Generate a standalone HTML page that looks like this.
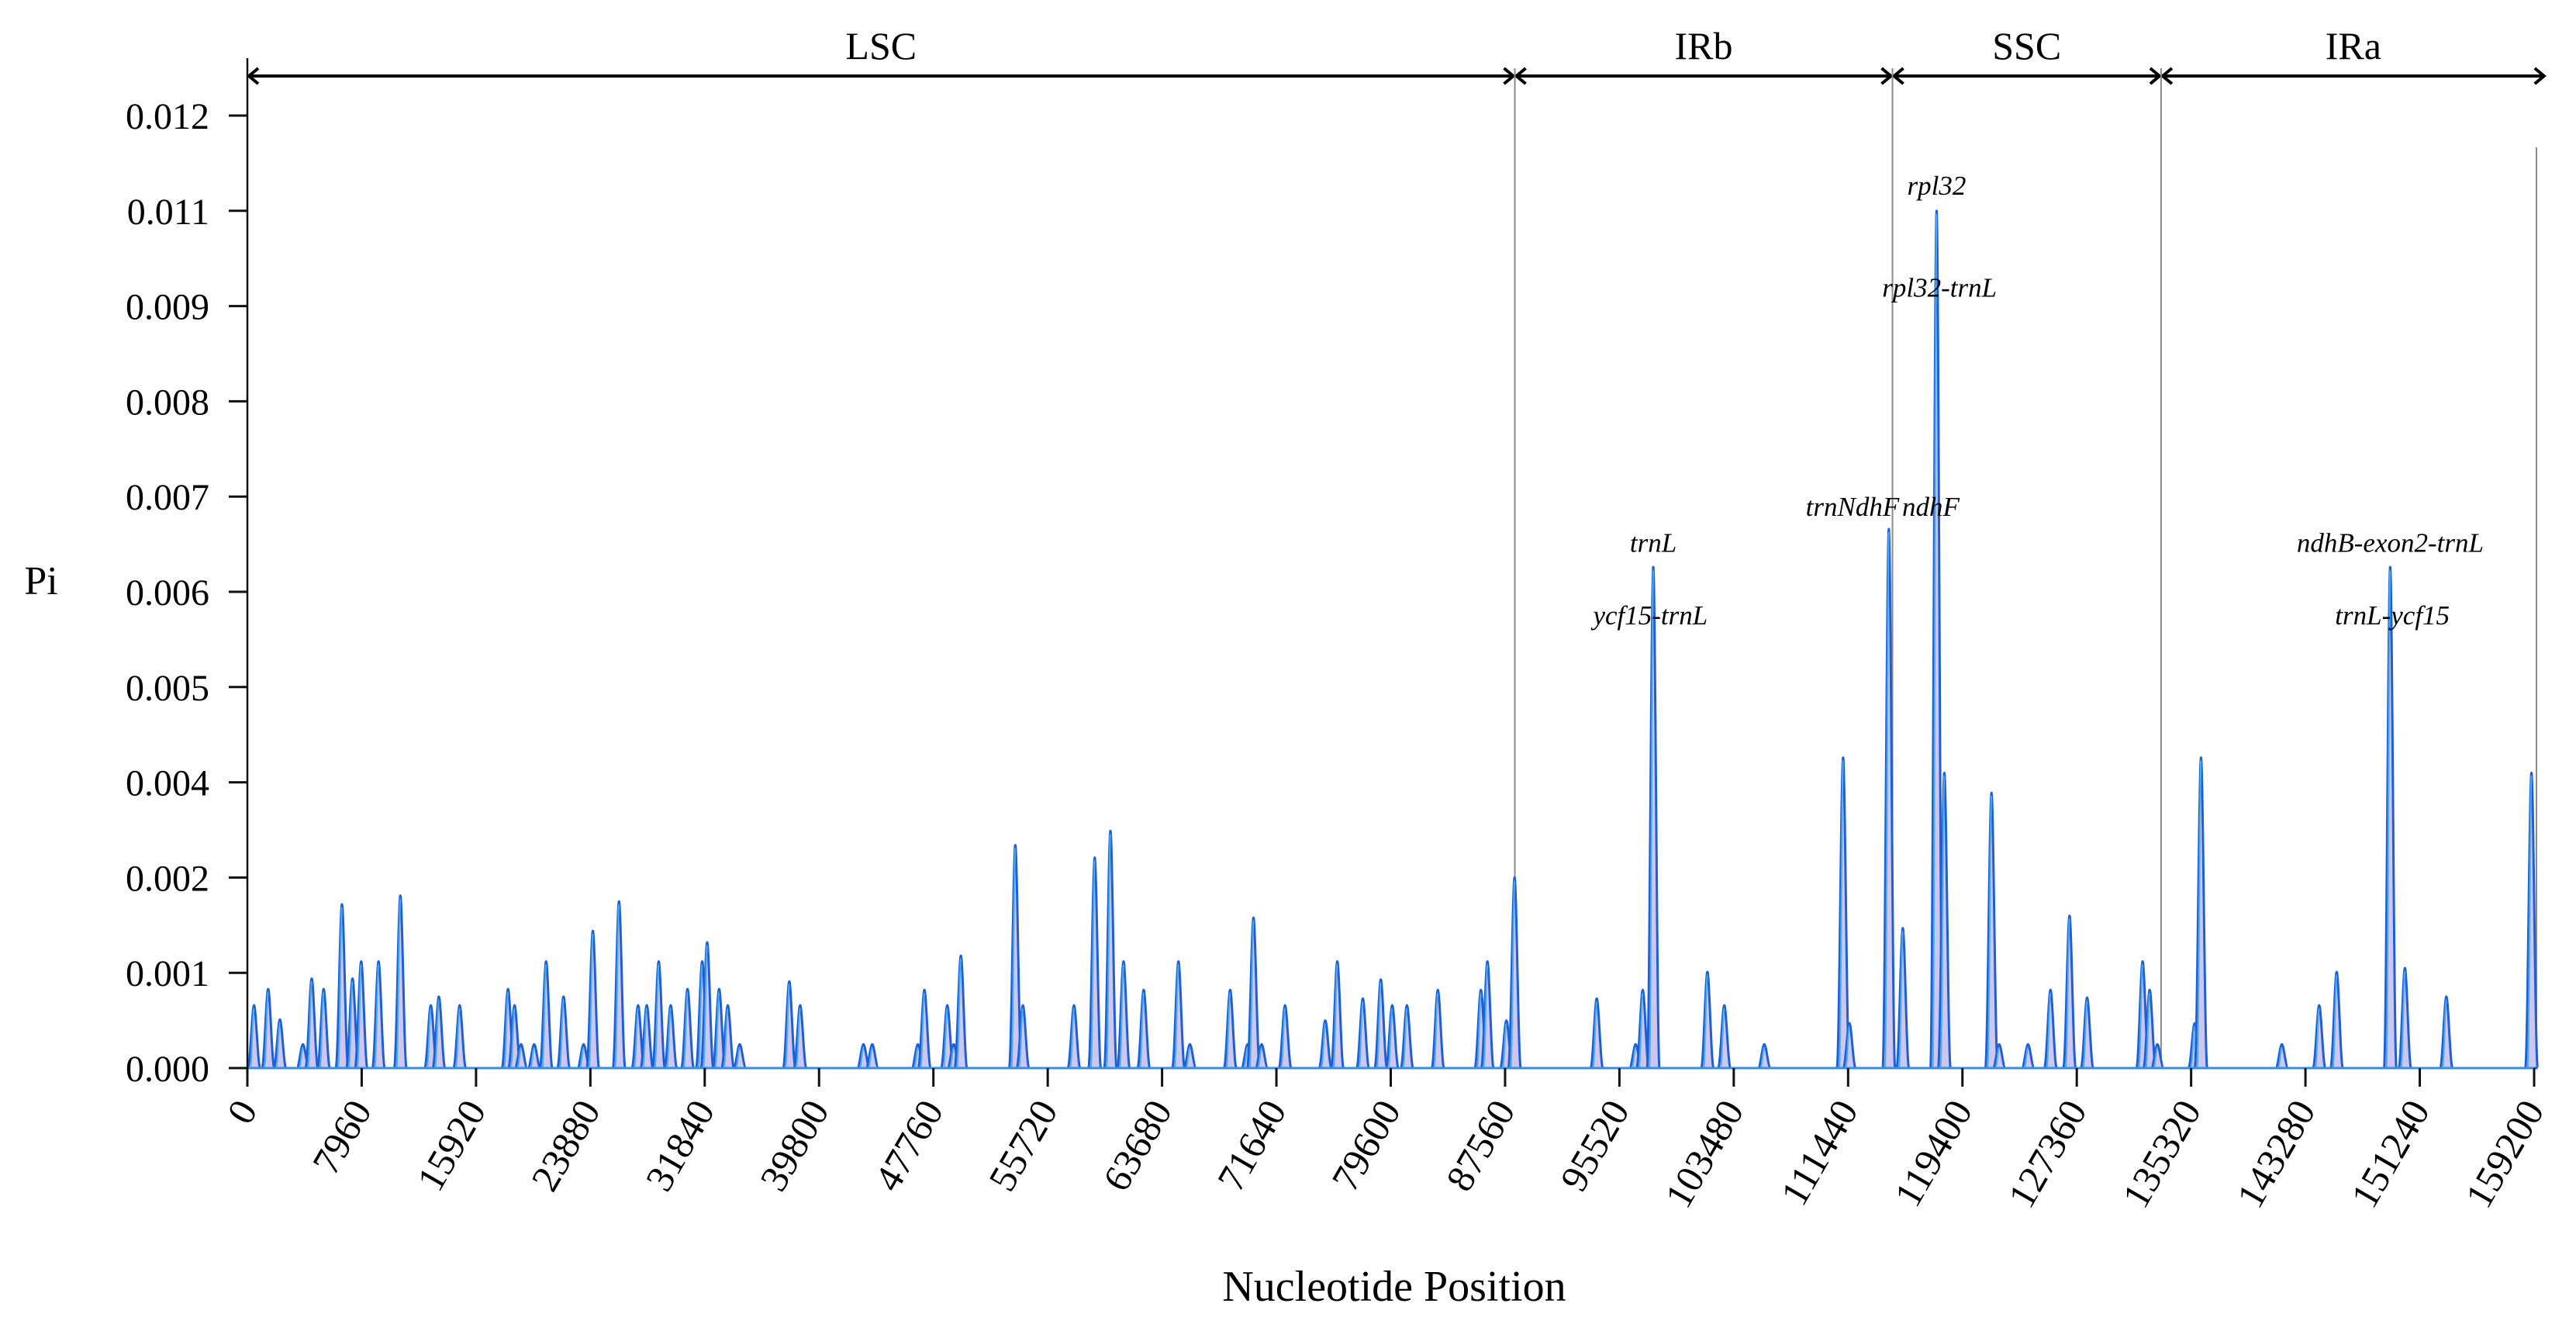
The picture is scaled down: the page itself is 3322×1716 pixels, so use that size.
<!DOCTYPE html>
<html><head><meta charset="utf-8"><style>
html,body{margin:0;padding:0;background:#fff;}
svg{display:block;font-family:"Liberation Serif",serif;}
</style></head><body>
<svg id="chart" width="3322" height="1716" viewBox="0 0 3322 1716" xmlns="http://www.w3.org/2000/svg">
<g id="regions"></g>
<g id="peaks"></g>
<g id="axes"></g>
<g id="labels"></g>
<text x="53" y="766" font-size="52" text-anchor="middle">Pi</text>
<text x="1798" y="1677" font-size="56" text-anchor="middle">Nucleotide Position</text>
</svg>
<script>
const positions=[464,1447,2267,3870,4480,5312,6586,7320,7924,9133,10650,12772,13333,14780,18148,18602,19055,19967,20798,22013,23411,24054,25873,27201,27806,28637,29473,30645,31665,32011,32842,33447,34278,37727,38483,42893,43503,46683,47136,48728,49176,49673,53462,53991,57548,58990,60085,60998,62401,64820,65618,68420,69634,70045,70611,72242,75043,75880,77656,78908,79702,80728,82881,85877,86331,87653,88220,93942,96652,97143,97877,101645,102822,105607,111092,111534,114276,115248,117601,118141,121423,121958,123966,125531,126854,128079,131944,132435,132975,135566,136009,141639,144236,145455,149180,150205,153088,159015];
const piValues=[0.00066,0.00083,0.00051,0.00025,0.00094,0.00083,0.00172,0.00094,0.00112,0.00112,0.00181,0.00066,0.00075,0.00066,0.00083,0.00066,0.00025,0.00025,0.00112,0.00075,0.00025,0.00144,0.00175,0.00066,0.00066,0.00112,0.00066,0.00083,0.00112,0.00132,0.00083,0.00066,0.00025,0.00091,0.00066,0.00025,0.00025,0.00025,0.00082,0.00066,0.00025,0.00118,0.00234,0.00066,0.00066,0.00221,0.00249,0.00112,0.00082,0.00112,0.00025,0.00082,0.00025,0.00158,0.00025,0.00066,0.0005,0.00112,0.00073,0.00093,0.00066,0.00066,0.00082,0.00082,0.00112,0.0005,0.002,0.00073,0.00025,0.00082,0.00526,0.00101,0.00066,0.00025,0.00326,0.00047,0.00566,0.00147,0.009,0.0031,0.00289,0.00025,0.00025,0.00082,0.0016,0.00074,0.00112,0.00082,0.00025,0.00047,0.00326,0.00025,0.00066,0.00101,0.00526,0.00105,0.00075,0.0031];
const yTickValues=[0,0.001,0.002,0.003,0.004,0.005,0.006,0.007,0.008,0.009,0.010];
const yTickLabels=["0.000","0.001","0.002","0.004","0.005","0.006","0.007","0.008","0.009","0.011","0.012"];
const xTickValues=[0,7960,15920,23880,31840,39800,47760,55720,63680,71640,79600,87560,95520,103480,111440,119400,127360,135320,143280,151240,159200];
const regionNames=["LSC","IRb","SSC","IRa"];
const regionStarts=[0,88240,114530,133230];
const regionEnds=[88240,114530,133230,160000];
const geneLabels=["rpl32","rpl32-trnL","trnNdhF","ndhF","trnL","ycf15-trnL","ndhB-exon2-trnL","trnL-ycf15"];
const geneLabelPos=[117601,117801,115000,115200,97877,97677,149180,149330];
const geneLabelPi=[0.00917,0.00810,0.00580,0.00580,0.00542,0.00466,0.00542,0.00466];
const geneLabelAnchor=["middle","middle","end","start","middle","middle","middle","middle"];

const NS="http://www.w3.org/2000/svg";
const X0=319,X1=3268,Y0=1377,Y1=149;
const xS=v=>X0+(v/159200)*(X1-X0);
const yS=v=>Y0-(v/0.010)*(Y0-Y1);
function mk(tag,parent,attrs){const e=document.createElementNS(NS,tag);for(const k in attrs)e.setAttribute(k,attrs[k]);parent.appendChild(e);return e;}

const reg=document.getElementById('regions');
const arrowY=98;
for(let i=0;i<regionNames.length;i++){
  const a=xS(regionStarts[i]),b=Math.min(xS(regionEnds[i]),3290);
  const g=mk('g',reg,{});
  
  
  const ln=mk('path',g,{d:`M${a+2},${arrowY}L${b-2},${arrowY}M${a+14},${arrowY-10}L${a+2},${arrowY}L${a+14},${arrowY+10}M${b-14},${arrowY-10}L${b-2},${arrowY}L${b-14},${arrowY+10}`,stroke:'#000','stroke-width':4,fill:'none'});
  
  
  const t=mk('text',g,{x:(a+b)/2,y:76,'font-size':50,'text-anchor':'middle'});
  
  
  t.textContent=regionNames[i];
  if(i>0){
    const sep=mk('line',g,{x1:a,x2:a,y1:88,y2:Y0,stroke:'#8a8a8a','stroke-width':2});
    
    
  }
}
const endLine=mk('line',reg,{x1:3271,x2:3271,y1:190,y2:Y0,stroke:'#8a8a8a','stroke-width':2});



const pk=document.getElementById('peaks');
for(let i=0;i<positions.length;i++){
  const x=xS(positions[i]),y=yS(piValues[i]),w=8;
  const p=mk('path',pk,{d:`M${x-w},${Y0}C${x-w+3},${Y0} ${x-2.5},${y} ${x},${y}C${x+2.5},${y} ${x+w-3},${Y0} ${x+w},${Y0}Z`,fill:'#cdc6ee',stroke:'#1f5fd6','stroke-width':3});
  
  
  const q=mk('path',pk,{d:`M${x-w+3},${Y0}C${x-w+5},${Y0} ${x-1.5},${y+4} ${x},${y+4}`,fill:'none',stroke:'#49aef0','stroke-width':2});
  
  
}
const base=mk('line',pk,{x1:X0,x2:X1,y1:Y0,y2:Y0,stroke:'#3a8ee6','stroke-width':3});



const ax=document.getElementById('axes');
const yAxis=mk('line',ax,{x1:X0,x2:X0,y1:75,y2:Y0+22,stroke:'#111','stroke-width':2.5});


for(let i=0;i<yTickValues.length;i++){
  const y=yS(yTickValues[i]);
  const t=mk('line',ax,{x1:X0-24,x2:X0,y1:y,y2:y,stroke:'#111','stroke-width':3});
  
  
  const l=mk('text',ax,{x:270,y:y+17,'font-size':48,'text-anchor':'end'});
  
  
  l.textContent=yTickLabels[i];
}
for(let i=0;i<xTickValues.length;i++){
  const x=xS(xTickValues[i]);
  const t=mk('line',ax,{x1:x,x2:x,y1:Y0,y2:Y0+24,stroke:'#111','stroke-width':3});
  
  
  const l=mk('text',ax,{x:x+14,y:Y0+54,'font-size':50,'text-anchor':'end',transform:`rotate(-60 ${x+14} ${Y0+54})`});
  
  
  l.textContent=String(xTickValues[i]);
}

const lb=document.getElementById('labels');
for(let i=0;i<geneLabels.length;i++){
  const t=mk('text',lb,{x:xS(geneLabelPos[i]),y:yS(geneLabelPi[i]),'font-size':35,'font-style':'italic','text-anchor':geneLabelAnchor[i]});
  
  
  t.textContent=geneLabels[i];
}
</script>
</body></html>
